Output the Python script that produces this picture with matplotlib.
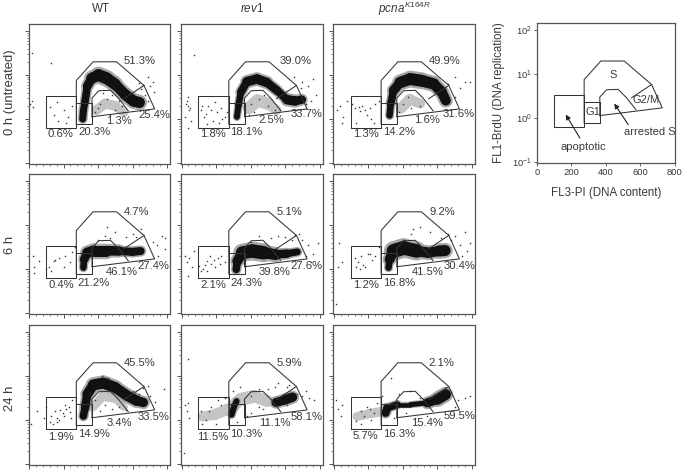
import numpy as np
import matplotlib
matplotlib.use("Agg")
import matplotlib.pyplot as plt
from matplotlib.ticker import MultipleLocator, LogLocator, NullFormatter

plt.rcParams["font.family"] = ["Liberation Sans", "DejaVu Sans"]
plt.rcParams["mathtext.fontset"] = "custom"
plt.rcParams["mathtext.rm"] = "Liberation Sans"
plt.rcParams["mathtext.it"] = "Liberation Sans:italic"

W, H = 687, 473
INK = "#3a3a3a"
FRAME = "#555555"

COLUMNS = ["WT", "$\\mathit{rev1}$", "$\\mathit{pcna}^{\\mathit{K164R}}$"]
ROWS = ["0 h (untreated)", "6 h", "24 h"]

# gates, FL3-PI / FL1-BrdU
APOPTOTIC_X = [97, 274, 274, 97, 97]
APOPTOTIC_Y = [0.62, 0.62, 3.4, 3.4, 0.62]
G1_X = [274, 365, 365, 274]
G1_Y = [0.77, 0.77, 2.3, 2.3]
S_OUTER_X = [274, 274, 371, 507, 666, 728, 365]
S_OUTER_Y = [0.77, 7.5, 20, 20, 5.8, 1.7, 1.13]
S_INNER_X = [365, 365, 404, 472, 520, 575]
S_INNER_Y = [1.13, 3.0, 4.4, 4.5, 2.9, 1.55]
G2M_X = [550, 666]
G2M_Y = [2.9, 5.8]

# percentages: apoptotic, G1, arrested S, G2/M, S
PCT = [
    [["0.6%", "20.3%", "1.3%", "25.4%", "51.3%"],
     ["1.8%", "18.1%", "2.5%", "33.7%", "39.0%"],
     ["1.3%", "14.2%", "1.6%", "31.6%", "49.9%"]],
    [["0.4%", "21.2%", "46.1%", "27.4%", "4.7%"],
     ["2.1%", "24.3%", "39.8%", "27.6%", "5.1%"],
     ["1.2%", "16.8%", "41.5%", "30.4%", "9.2%"]],
    [["1.9%", "14.9%", "3.4%", "33.5%", "45.5%"],
     ["11.5%", "10.3%", "11.1%", "58.1%", "5.9%"],
     ["5.7%", "16.3%", "15.4%", "59.5%", "2.1%"]],
]

# dense part of each cloud: x, log10(y), thickness
WT_0H_X = [311, 315, 325, 338, 363, 402, 450, 499, 556, 605, 640]
WT_0H_Y = [0, .19, .41, .75, .925, 1.0, .925, .79, .56, .41, .376]
WT_0H_T = [7, 7, 7, 8, 10, 12, 12, 11, 10, 12, 10]
REV1_0H_X = [321, 330, 344, 379, 437, 495, 553, 611, 659, 697]
REV1_0H_Y = [.05, .31, .61, .85, .91, .83, .65, .44, .41, .44]
REV1_0H_T = [6, 6, 7, 9, 10, 9, 8, 8, 11, 6]
PCNA_0H_X = [323, 330, 346, 384, 442, 510, 578, 626, 649]
PCNA_0H_Y = [.08, .35, .65, .83, .91, .87, .80, .61, .42]
PCNA_0H_T = [6, 7, 8, 11, 12, 12, 11, 10, 10]
WT_6H_X = [315, 319, 338, 377, 444, 522, 599, 647]
WT_6H_Y = [.03, .22, .37, .42, .42, .41, .39, .41]
WT_6H_T = [6, 7, 10, 11, 11, 8, 8, 8]
REV1_6H_X = [317, 323, 352, 410, 477, 545, 612, 671]
REV1_6H_Y = [-.01, .18, .37, .41, .37, .33, .35, .39]
REV1_6H_T = [7, 8, 12, 14, 13, 9, 8, 6]
PCNA_6H_X = [317, 323, 346, 404, 481, 549, 607, 645]
PCNA_6H_Y = [.03, .22, .41, .48, .41, .37, .41, .42]
PCNA_6H_T = [6, 7, 13, 15, 12, 9, 11, 11]
WT_24H_X = [315, 325, 338, 373, 431, 499, 566, 624, 662]
WT_24H_Y = [.09, .28, .59, .80, .84, .74, .56, .44, .40]
WT_24H_T = [7, 8, 9, 11, 11, 11, 10, 11, 8]
REV1_24H_X = [547, 600, 643]
REV1_24H_Y = [.40, .46, .52]
REV1_24H_T = [7, 11, 8]
REV1_24H_LOW_X = [290, 305, 319]
REV1_24H_LOW_Y = [.12, .31, .43]
REV1_24H_LOW_T = [5, 7, 5]
PCNA_24H_X = [300, 309, 367, 444, 541, 599, 647]
PCNA_24H_Y = [.16, .27, .35, .35, .39, .47, .58]
PCNA_24H_T = [7, 9, 5, 4, 6, 12, 10]

# thinner grey parts of the clouds
WT_0H_FX = [390, 440, 500, 550]
WT_0H_FY = [.2, .35, .3, .15]
WT_0H_FT = [10, 10, 10, 8]
REV1_0H_FX = [390, 440, 500, 550]
REV1_0H_FY = [.25, .42, .35, .2]
REV1_0H_FT = [12, 13, 12, 8]
PCNA_0H_FX = [390, 440, 500]
PCNA_0H_FY = [.25, .45, .35]
PCNA_0H_FT = [10, 12, 8]
WT_24H_FX = [370, 430, 500, 550]
WT_24H_FY = [.3, .55, .5, .3]
WT_24H_FT = [8, 10, 10, 6]
REV1_24H_FX = [122, 189, 267, 290, 319, 344, 421, 498, 556]
REV1_24H_FY = [.08, .12, .24, .25, .40, .47, .54, .43, .43]
REV1_24H_FT = [10, 10, 12, 12, 12, 12, 14, 10, 8]
PCNA_24H_FX = [135, 213, 290]
PCNA_24H_FY = [.08, .15, .20]
PCNA_24H_FT = [8, 10, 9]

# stray events
WT_0H_DX = [19, 126, 15, 25, 8, 120, 145, 170, 200, 225, 250, 165, 215, 690, 660, 700, 725, 650, 720, 690,
            640, 670, 410, 450, 500, 540, 380, 430, 480, 520, 470, 400, 545, 585]
WT_0H_DY = [1.5, 1.27, .42, .28, .35, .28, .1, -.05, .2, .05, .3, .38, -.1, .95, .78, .75, .62, .68, .85, .42,
            .82, .55, .35, .45, .2, .3, .15, .6, .55, .4, .1, .25, .15, .6]
REV1_0H_DX = [25, 30, 35, 40, 45, 20, 50, 55, 35, 75, 110, 130, 155, 180, 205, 230, 250, 140, 170, 215,
              120, 235, 195, 150, 265, 700, 730, 760, 780, 720, 650, 690, 750, 400, 450, 500, 540, 420, 480, 390]
REV1_0H_DY = [.35, .42, .3, .5, .2, .05, .25, -.05, -.2, 1.45, .2, .05, .3, -.05, .15, .25, .05, .12, .2, -.1,
              .3, .0, .38, -.12, .15, .85, .75, .9, .55, .35, .95, .7, .4, .35, .45, .3, .2, .15, .55, .1]
PCNA_0H_DX = [35, 55, 20, 75, 45, 125, 145, 165, 190, 215, 240, 210, 230, 130, 180, 260, 105, 150, 700, 760,
              790, 730, 660, 700, 400, 450, 500, 540, 430, 380]
PCNA_0H_DY = [.3, .05, .2, .4, -.1, .25, .28, .3, .1, .0, .35, .25, -.1, -.1, .2, .4, .35, .18, .95, .85,
              .85, .7, .8, .5, .35, .25, .3, .1, .5, .15]
WT_6H_DX = [25, 30, 55, 100, 30, 115, 150, 175, 200, 235, 130, 210, 250, 145, 265, 740, 770, 790, 750, 790,
            720, 450, 470, 500, 600, 560, 650, 620, 400, 440]
WT_6H_DY = [.3, -.1, .18, .0, .05, .05, .2, .25, .05, .15, -.05, .3, .38, .18, .5, .55, .75, .7, .3, .45,
            .62, .95, .7, .85, .8, .72, .9, .72, .65, .75]
REV1_6H_DX = [20, 30, 45, 60, 75, 35, 115, 135, 150, 170, 190, 210, 230, 250, 125, 165, 195, 225, 100, 145,
              700, 730, 760, 790, 720, 750, 660, 450, 520, 600, 640, 400, 560, 360, 680]
REV1_6H_DY = [.3, .15, .25, .05, .4, -.15, -.05, .1, .18, .12, .2, .25, .3, .15, .0, .3, .05, .12, .08, -.05,
              .65, .55, .35, .6, .3, .15, .78, .75, .7, .72, .65, .62, .75, .4, .8]
PCNA_6H_DX = [30, 45, 15, 25, 120, 140, 160, 180, 200, 220, 240, 130, 170, 210, 150, 260, 700, 730, 760, 790,
              680, 740, 770, 500, 560, 620, 450, 400, 460, 660]
PCNA_6H_DY = [.6, .15, -.8, .05, .25, .15, .3, .05, .35, .2, .3, .05, .1, .35, .0, .5, .75, .55, .85, .6,
              .65, .3, .4, .95, .85, .7, .8, .65, .9, .8]
WT_24H_DX = [10, 45, 85, 100, 120, 130, 150, 165, 180, 195, 215, 230, 250, 160, 200, 235, 140, 175, 210, 245,
             700, 730, 780, 640, 660, 690, 410, 440, 480, 520, 380, 560, 600, 420, 460]
WT_24H_DY = [-.1, .2, .05, .3, -.05, .1, .2, .05, .22, .15, .25, .3, .45, -.05, .1, .18, -.1, .0, .35, .05,
             .55, .42, .7, .6, .72, .78, .2, .35, .25, .3, .45, .22, .65, 1.0, .95]
REV1_24H_DX = [35, 15, 30, 45, 20, 35, 110, 140, 170, 200, 230, 120, 160, 210, 250, 300, 340, 400, 450, 500,
               560, 610, 670, 700, 740, 770, 720, 400, 320, 450, 540, 380, 470, 620, 610]
REV1_24H_DY = [1.38, -.75, .2, .05, .35, .38, .2, .0, .3, -.1, .35, -.1, .2, .45, .5, .65, .75, .55, .3, .7,
               .85, .75, .6, .55, .5, .45, .65, .15, -.05, .7, .75, .1, .25, .8, .35]
PCNA_24H_DX = [25, 15, 40, 50, 130, 155, 175, 195, 215, 235, 160, 210, 250, 280, 380, 440, 500, 570, 640, 680,
               720, 760, 790, 700, 330, 420, 470, 540, 350, 400]
PCNA_24H_DY = [.25, .45, .1, .35, -.02, .2, .1, .3, .0, .15, -.1, .25, .38, .55, .6, .65, .5, .55, .7, .62,
               .45, .5, .55, .3, .95, .15, .05, .1, .05, .3]

CORE = [
    [[(WT_0H_X, WT_0H_Y, WT_0H_T)], [(REV1_0H_X, REV1_0H_Y, REV1_0H_T)], [(PCNA_0H_X, PCNA_0H_Y, PCNA_0H_T)]],
    [[(WT_6H_X, WT_6H_Y, WT_6H_T)], [(REV1_6H_X, REV1_6H_Y, REV1_6H_T)], [(PCNA_6H_X, PCNA_6H_Y, PCNA_6H_T)]],
    [[(WT_24H_X, WT_24H_Y, WT_24H_T)],
     [(REV1_24H_X, REV1_24H_Y, REV1_24H_T), (REV1_24H_LOW_X, REV1_24H_LOW_Y, REV1_24H_LOW_T)],
     [(PCNA_24H_X, PCNA_24H_Y, PCNA_24H_T)]],
]
FAINT = [
    [(WT_0H_FX, WT_0H_FY, WT_0H_FT), (REV1_0H_FX, REV1_0H_FY, REV1_0H_FT), (PCNA_0H_FX, PCNA_0H_FY, PCNA_0H_FT)],
    [None, None, None],
    [(WT_24H_FX, WT_24H_FY, WT_24H_FT), (REV1_24H_FX, REV1_24H_FY, REV1_24H_FT), (PCNA_24H_FX, PCNA_24H_FY, PCNA_24H_FT)],
]
DOTS = [
    [(WT_0H_DX, WT_0H_DY), (REV1_0H_DX, REV1_0H_DY), (PCNA_0H_DX, PCNA_0H_DY)],
    [(WT_6H_DX, WT_6H_DY), (REV1_6H_DX, REV1_6H_DY), (PCNA_6H_DX, PCNA_6H_DY)],
    [(WT_24H_DX, WT_24H_DY), (REV1_24H_DX, REV1_24H_DY), (PCNA_24H_DX, PCNA_24H_DY)],
]

COL_LEFT = [28.5, 181, 333.3]
COL_WIDTH = 141.7
ROW_TOP = [24, 174, 325]
ROW_HEIGHT = 139.5
# label centres in pixels, relative to the panel's top left corner
LABEL_OFFSET = [
    [[(31.5, 110), (65.5, 108), (90.5, 97), (125.5, 91), (111.5, 37)],
     [(32, 110), (65, 108), (90.7, 96), (125.7, 90), (114.7, 36.7)],
     [(32.4, 110), (65.7, 108), (93.7, 96), (125.7, 90), (111.4, 37)]],
    [[(32.5, 111), (65.2, 108.7), (93.5, 97.7), (125.2, 91.7), (108.5, 38)],
     [(32.3, 111), (65, 108.7), (94, 97.7), (125.7, 91.7), (108.3, 38)],
     [(32.4, 111), (65.7, 108.7), (94, 97.7), (126, 91.7), (109, 38)]],
    [[(32.5, 111.7), (65.8, 108.7), (90.5, 97.7), (125.5, 92), (111.5, 38.3)],
     [(31.7, 111.7), (65.3, 108.7), (94, 97.7), (125.7, 91.7), (108.3, 38)],
     [(32.4, 111), (65.7, 108.7), (94, 97.7), (126, 91.3), (108.4, 37.7)]],
]


def axes_at(fig, left, top, width, height):
    ax = fig.add_axes([left / W, 1 - (top + height) / H, width / W, height / H])
    for spine in ax.spines.values():
        spine.set_color(FRAME)
        spine.set_linewidth(0.9)
    return ax


def draw_gates(ax):
    for xs, ys in [(APOPTOTIC_X, APOPTOTIC_Y), (G1_X, G1_Y), (S_OUTER_X, S_OUTER_Y),
                   (S_INNER_X, S_INNER_Y), (G2M_X, G2M_Y)]:
        ax.plot(xs, ys, color="#333333", lw=0.75, zorder=4, solid_joinstyle="miter")


def draw_band(ax, band, color, scale, zorder):
    xs, ys, ts = band
    for i in range(len(xs) - 1):
        ax.plot(xs[i:i + 2], 10 ** np.array(ys[i:i + 2]), color=color, zorder=zorder,
                lw=(ts[i] + ts[i + 1]) / 2 * 0.72 * scale, solid_capstyle="round")


fig = plt.figure(figsize=(W / 100, H / 100), dpi=100)

for r in range(3):
    for c in range(3):
        ax = axes_at(fig, COL_LEFT[c], ROW_TOP[r], COL_WIDTH, ROW_HEIGHT)
        if FAINT[r][c] is not None:
            draw_band(ax, FAINT[r][c], "#c4c4c4", 1.0, 1)
        for band in CORE[r][c]:
            draw_band(ax, band, "#a8a8a8", 1.4, 1.5)
        for band in CORE[r][c]:
            draw_band(ax, band, "#111111", 1.0, 2)
        dx, dy = DOTS[r][c]
        ax.plot(dx, 10 ** np.array(dy), ls="none", marker="s", ms=1.0, mew=0, color="#333333", zorder=3)
        draw_gates(ax)
        ax.set_xlim(-3, 818)
        ax.set_yscale("log")
        ax.set_ylim(10 ** -1.01, 10 ** 2.16)
        ax.xaxis.set_major_locator(MultipleLocator(200))
        ax.xaxis.set_minor_locator(MultipleLocator(40))
        ax.yaxis.set_major_locator(LogLocator(base=10, numticks=6))
        ax.yaxis.set_minor_locator(LogLocator(base=10, subs=np.arange(2, 10), numticks=6))
        ax.tick_params(which="major", length=3, width=0.7, color=FRAME, labelbottom=False, labelleft=False)
        ax.tick_params(which="minor", length=1.5, width=0.5, color=FRAME)
        ax.yaxis.set_minor_formatter(NullFormatter())
        for text, (ox, oy) in zip(PCT[r][c], LABEL_OFFSET[r][c]):
            fig.text((COL_LEFT[c] + ox) / W, 1 - (ROW_TOP[r] + oy) / H, text, fontsize=8.1, color=INK,
                     ha="center", va="center", zorder=6)

for cx, label in zip([101, 252, 404], COLUMNS):
    fig.text(cx / W, 1 - 9 / H, label, fontsize=8.4, color=INK, ha="center", va="center")
for cy, label in zip([92, 245, 398], ROWS):
    fig.text(10 / W, 1 - cy / H, label, fontsize=9.4, color=INK, rotation=90, ha="center", va="center")

# key panel
key = axes_at(fig, 537, 23, 138, 140)
draw_gates(key)
key.set_xlim(0, 802)
key.set_yscale("log")
key.set_ylim(10 ** -1.03, 10 ** 2.17)
key.xaxis.set_major_locator(MultipleLocator(200))
key.yaxis.set_major_locator(LogLocator(base=10, numticks=6))
key.yaxis.set_minor_locator(LogLocator(base=10, subs=np.arange(2, 10), numticks=6))
key.yaxis.set_minor_formatter(NullFormatter())
key.tick_params(which="major", length=2, width=0.6, color=FRAME, labelsize=6.8, labelcolor=INK, pad=1.5)
key.tick_params(which="minor", length=0)
key.set_xlabel("FL3-PI (DNA content)", fontsize=8.3, color=INK, labelpad=7)
key.set_ylabel("FL1-BrdU (DNA replication)", fontsize=8.3, color=INK, labelpad=5)
for x, logy, text in [(443, .97, "S"), (323, .13, "G1"), (631, .405, "G2/M"),
                      (657, -.32, "arrested S"), (268, -.67, "apoptotic")]:
    key.text(x, 10 ** logy, text, fontsize=8, color=INK, ha="center", va="center", zorder=6)
for (x0, logy0), (x1, logy1) in [((249, -.458), (167, .076)), ((530, -.153), (449, .328))]:
    key.annotate("", xy=(x1, 10 ** logy1), xytext=(x0, 10 ** logy0),
                 arrowprops=dict(arrowstyle="-|>", color="#222222", lw=0.8, mutation_scale=7,
                                 shrinkA=0, shrinkB=0))

fig.savefig("out.png", dpi=100)
plt.close(fig)
